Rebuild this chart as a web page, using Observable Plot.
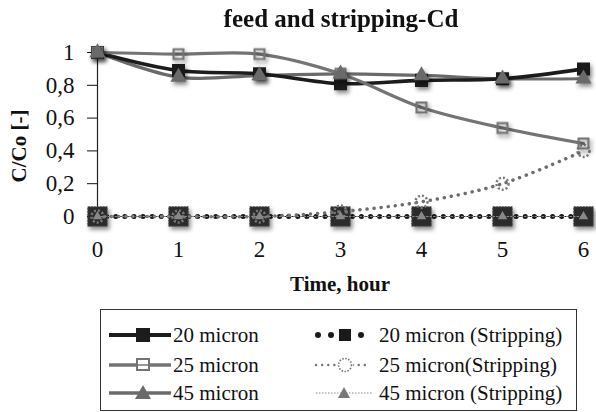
<!DOCTYPE html>
<html>
<head>
<meta charset="utf-8">
<script src="https://cdn.jsdelivr.net/npm/d3@7"></script>
<script src="https://cdn.jsdelivr.net/npm/@observablehq/plot@0.6"></script>
<style>
  html, body { margin: 0; padding: 0; background: #fff; }
  #wrap { position: relative; width: 596px; height: 412px; overflow: hidden; font-family: 'Liberation Serif', 'DejaVu Serif', serif; color: #111; }
  #chart { position: absolute; left: 0; top: 0; }
  .title { position: absolute; left: 0; width: 596px; top: 5px; text-align: center; font-weight: bold; font-size: 25px; padding-left: 86px; box-sizing: border-box; }
  .ylab { position: absolute; left: 19px; top: 146px; transform: translate(-50%, -50%) rotate(-90deg); font-weight: bold; font-size: 21px; white-space: nowrap; }
  .xlab { position: absolute; left: 340px; top: 284px; transform: translate(-50%, -50%); font-weight: bold; font-size: 21px; white-space: nowrap; }
  .legend { position: absolute; left: 100px; top: 309px; width: 477px; height: 102px; border: 1.5px solid #333; box-sizing: border-box; }
  .li { position: absolute; font-size: 21px; line-height: 1; white-space: nowrap; transform: translateY(-50%); }
  .sw { position: absolute; transform: translateY(-50%); line-height: 0; }
  .shadow { filter: drop-shadow(2px 3px 2px rgba(0,0,0,0.45)); }
</style>
</head>
<body>
<div id="wrap">
  <div id="chart"></div>
  <div class="title">feed and stripping-Cd</div>
  <div class="ylab">C/Co [-]</div>
  <div class="xlab">Time, hour</div>
  <div class="legend" id="legend"></div>
</div>
<script>
const times = [0, 1, 2, 3, 4, 5, 6];
const feed20 = [1, 0.89, 0.87, 0.81, 0.83, 0.84, 0.90];
const feed25 = [1, 0.99, 0.99, 0.87, 0.665, 0.54, 0.445];
const feed45 = [1, 0.85, 0.86, 0.87, 0.86, 0.84, 0.84];
const strip20 = [0, 0, 0, 0, 0, 0, 0];
const strip25 = [0, 0, 0, 0.03, 0.09, 0.2, 0.4];
const strip45 = [0, 0, 0, 0, 0, 0, 0];
const yTicks = [0, 0.2, 0.4, 0.6, 0.8, 1];
const xTicks = [0, 1, 2, 3, 4, 5, 6];
const seriesLabels = ["20 micron", "25 micron", "45 micron", "20 micron (Stripping)", "25 micron(Stripping)", "45 micron (Stripping)"];

const rows = (vals) => times.map((t, i) => ({t, v: vals[i]}));
const d20 = rows(feed20), d25 = rows(feed25), d45 = rows(feed45);
const s20 = rows(strip20), s25 = rows(strip25), s45 = rows(strip45);

const fmt = d => d === 0 ? "0" : d === 1 ? "1" : String(d).replace(".", ",");

const plot = Plot.plot({
  width: 596,
  height: 300,
  marginLeft: 97,
  marginRight: 13,
  marginTop: 52,
  marginBottom: 84,
  style: {fontFamily: "'Liberation Serif', serif", fontSize: "23px", color: "#111", background: "transparent"},
  x: {domain: [0, 6], ticks: xTicks, tickSize: 0, tickPadding: 24, label: null, tickFormat: d => String(d)},
  y: {domain: [0, 1], ticks: yTicks, tickSize: 10, tickPadding: 13, label: null, tickFormat: fmt},
  marks: [
    Plot.ruleX([0], {y1: 0, y2: 1, stroke: "#222", strokeWidth: 1.2}),
    // stripping series
    Plot.line(s20, {x: "t", y: "v", stroke: "#1a1a1a", strokeWidth: 1}),
    Plot.line(s20, {x: "t", y: "v", stroke: "#1a1a1a", strokeWidth: 5, strokeDasharray: "0.1 9", strokeLinecap: "round"}),
    Plot.dot(s20, {x: "t", y: "v", symbol: "square", r: 11, fill: "#2b2b2b", stroke: "#555", strokeWidth: 1, strokeDasharray: "2 1", className: "shadow"}),
    Plot.line(s25, {x: "t", y: "v", curve: "catmull-rom", stroke: "#6e6e6e", strokeWidth: 3.5, strokeDasharray: "0.1 7", strokeLinecap: "round"}),
    Plot.dot(s25, {x: "t", y: "v", r: 6, fill: "none", stroke: "#7a7a7a", strokeWidth: 2.5, strokeDasharray: "2 2"}),
    Plot.line(s45, {x: "t", y: "v", stroke: "#888", strokeWidth: 1.2, strokeDasharray: "1.5 2"}),
    Plot.dot(s45, {x: "t", y: "v", symbol: "triangle", r: 3.5, fill: "#888"}),
    // feed series
    Plot.line(d45, {x: "t", y: "v", curve: "catmull-rom", stroke: "#6a6a6a", strokeWidth: 3.2}),
    Plot.line(d20, {x: "t", y: "v", curve: "catmull-rom", stroke: "#1c1c1c", strokeWidth: 3.6}),
    Plot.line(d25, {x: "t", y: "v", curve: "catmull-rom", stroke: "#747474", strokeWidth: 3.2}),
    Plot.dot(d20, {x: "t", y: "v", symbol: "square", r: 6.5, fill: "#1c1c1c", stroke: "#1c1c1c", className: "shadow"}),
    Plot.dot(d25, {x: "t", y: "v", symbol: "square", r: 5.5, fill: "none", stroke: "#747474", strokeWidth: 2.2, className: "shadow"}),
    Plot.dot(d45, {x: "t", y: "v", symbol: "triangle", r: 6, fill: "#6a6a6a", className: "shadow"})
  ]
});
document.getElementById("chart").appendChild(plot);

// legend swatches
const swatches = [
  `<svg width="64" height="20"><line x1="0" y1="10" x2="62" y2="10" stroke="#1c1c1c" stroke-width="4"/><rect x="27" y="3" width="14" height="14" fill="#1c1c1c"/></svg>`,
  `<svg width="64" height="20"><line x1="0" y1="10" x2="62" y2="10" stroke="#747474" stroke-width="3.5"/><rect x="28" y="4" width="12" height="11" fill="#fff" stroke="#747474" stroke-width="2"/><line x1="28" y1="10" x2="40" y2="10" stroke="#747474" stroke-width="1.5"/></svg>`,
  `<svg width="64" height="20"><line x1="0" y1="10" x2="62" y2="10" stroke="#6a6a6a" stroke-width="3.5"/><polygon points="34,2 42,16 26,16" fill="#6a6a6a"/></svg>`,
  `<svg width="56" height="20"><circle cx="5" cy="10" r="3" fill="#1a1a1a"/><circle cx="18" cy="10" r="3" fill="#1a1a1a"/><rect x="26" y="4" width="12" height="12" fill="#1a1a1a"/><circle cx="48" cy="10" r="3" fill="#1a1a1a"/></svg>`,
  `<svg width="60" height="20"><line x1="3" y1="10" x2="57" y2="10" stroke="#777" stroke-width="2.4" stroke-dasharray="0.1 6" stroke-linecap="round"/><rect x="24" y="3" width="16" height="14" fill="#fff"/><circle cx="32" cy="10" r="6.5" fill="none" stroke="#777" stroke-width="1.6" stroke-dasharray="1.5 1.5"/></svg>`,
  `<svg width="62" height="20"><line x1="3" y1="10" x2="59" y2="10" stroke="#888" stroke-width="1.2" stroke-dasharray="1.5 1.5"/><polygon points="31,4 37,15 25,15" fill="#777"/></svg>`
];
const legendPos = [
  {sx: 8, tx: 72, y: 25}, {sx: 8, tx: 72, y: 55}, {sx: 8, tx: 72, y: 83},
  {sx: 212, tx: 278, y: 25}, {sx: 212, tx: 278, y: 55}, {sx: 212, tx: 278, y: 83}
];
const lg = document.getElementById("legend");
seriesLabels.forEach((label, i) => {
  const p = legendPos[i];
  const s = document.createElement("div");
  s.className = "sw";
  s.style.left = p.sx + "px";
  s.style.top = p.y + "px";
  s.innerHTML = swatches[i];
  lg.appendChild(s);
  const t = document.createElement("div");
  t.className = "li";
  t.style.left = p.tx + "px";
  t.style.top = p.y + "px";
  t.textContent = label;
  lg.appendChild(t);
});
</script>
</body>
</html>
